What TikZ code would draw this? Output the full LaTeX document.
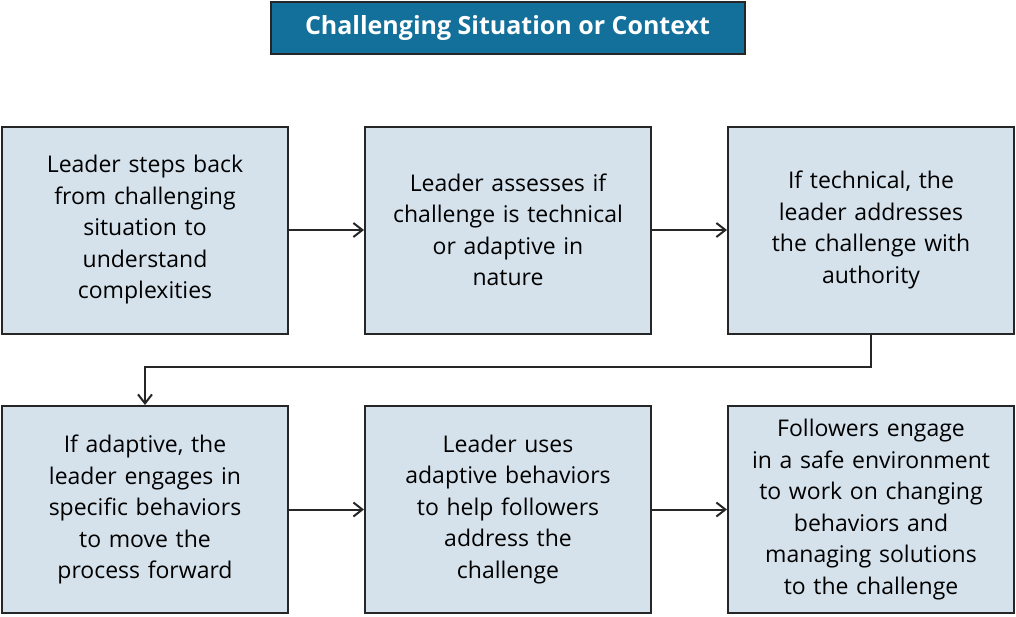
\documentclass[tikz,border=0pt]{standalone}
\usepackage{fontspec}
\setmainfont{Open Sans}
\usetikzlibrary{arrows.meta}
\definecolor{boxfill}{HTML}{D5E2EC}
\definecolor{titlefill}{HTML}{12709B}
\begin{document}
\begin{tikzpicture}[x=1pt,y=-1pt,
  box/.style={draw=black!85,line width=2pt,fill=boxfill,minimum width=286pt,minimum height=207pt,text width=230pt,align=center,font=\fontsize{23}{31.5}\selectfont,inner sep=0pt},
  arr/.style={-{Straight Barb[length=9pt,width=14pt]},line width=2pt,draw=black!85}]
\useasboundingbox (0,0) rectangle (1016,616);
\node[draw=black!85,line width=2pt,fill=titlefill,minimum width=474pt,minimum height=52pt,text=white,font=\fontsize{25}{30}\selectfont\bfseries] (t) at (507.5,28) {Challenging Situation or Context};
\node[box] (a) at (145,230) {Leader steps back\\from challenging\\situation to\\understand\\complexities};
\node[box] (b) at (508,230) {Leader assesses if\\challenge is technical\\or adaptive in\\nature};
\node[box] (c) at (871,230) {If technical, the\\leader addresses\\the challenge with\\authority};
\node[box] (d) at (145,509.5) {If adaptive, the\\leader engages in\\specific behaviors\\to move the\\process forward};
\node[box] (e) at (508,509.5) {Leader uses\\adaptive behaviors\\to help followers\\address the\\challenge};
\node[box,text width=250pt] (f) at (871,509.5) {Followers engage\\in a safe environment\\to work on changing\\behaviors and\\managing solutions\\to the challenge};
\draw[arr] (a) -- (b);
\draw[arr] (b) -- (c);
\draw[arr] (d) -- (e);
\draw[arr] (e) -- (f);
\coordinate (m) at (871,367);
\draw[arr] (c.south) -- (m) -| (d.north);
\end{tikzpicture}
\end{document}
